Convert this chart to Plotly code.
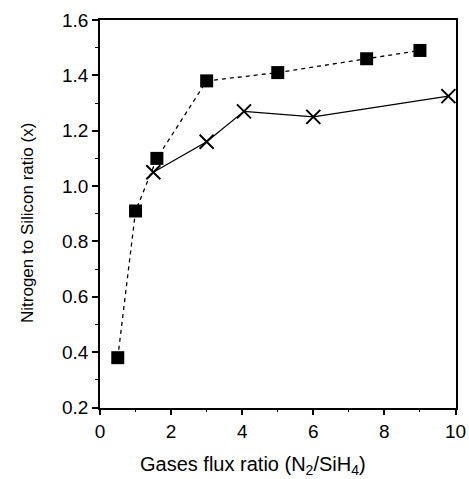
import plotly.graph_objects as go

sq_x = [0.5, 1.0, 1.6, 3.0, 5.0, 7.5, 9.0]
sq_y = [0.38, 0.91, 1.10, 1.38, 1.41, 1.46, 1.49]
cr_x = [1.5, 3.0, 4.05, 6.0, 9.8]
cr_y = [1.05, 1.16, 1.27, 1.25, 1.325]

x_ticks = [0, 2, 4, 6, 8, 10]
y_ticks = [0.2, 0.4, 0.6, 0.8, 1.0, 1.2, 1.4, 1.6]

W, H = 469, 479
PL, PR, PT, PB = 100, 455.5, 20, 407.5  # plot area in picture pixels

fig = go.Figure()
fig.add_trace(go.Scatter(x=sq_x, y=sq_y, mode="lines+markers",
                         line=dict(color="black", width=1.3, dash="4px,4px"),
                         marker=dict(symbol="square", size=13, color="black"),
                         showlegend=False, cliponaxis=False))
fig.add_trace(go.Scatter(x=cr_x, y=cr_y, mode="lines+markers",
                         line=dict(color="black", width=1.3),
                         marker=dict(symbol="x-thin", size=14, color="black",
                                     line=dict(color="black", width=2)),
                         showlegend=False, cliponaxis=False))

font = dict(family="Liberation Sans, Arial, sans-serif", color="black")
fig.update_layout(
    height=H, autosize=True,
    margin=dict(l=0, r=0, t=0, b=0, pad=0),
    plot_bgcolor="white", paper_bgcolor="white",
    font=font,
    xaxis=dict(domain=[PL / W, PR / W], automargin=False,
               range=[0, 10], tickvals=x_ticks, ticktext=[str(v) for v in x_ticks],
               showgrid=False, zeroline=False, showline=True, linecolor="black",
               linewidth=1.5, mirror=True, ticks="outside", ticklen=6, tickwidth=1.5,
               tickcolor="black", tickfont=dict(size=19, **font),
               minor=dict(dtick=1, ticks="outside", ticklen=3, tickcolor="black", tickwidth=1)),
    yaxis=dict(domain=[1 - PB / H, 1 - PT / H], automargin=False,
               range=[0.2, 1.6], tickvals=y_ticks, ticktext=[f"{v:.1f}" for v in y_ticks],
               showgrid=False, zeroline=False, showline=True, linecolor="black",
               linewidth=1.5, mirror=True, ticks="outside", ticklen=6, tickwidth=1.5,
               tickcolor="black", tickfont=dict(size=19, **font),
               minor=dict(dtick=0.1, ticks="outside", ticklen=3, tickcolor="black", tickwidth=1)),
    annotations=[
        dict(text="Gases flux ratio (N<sub>2</sub>/SiH<sub>4</sub>)", xref="paper", yref="paper",
             x=253 / W, y=1 - 465 / H, xanchor="center", yanchor="middle",
             showarrow=False, font=dict(size=20, **font)),
        dict(text="Nitrogen to Silicon ratio (x)", xref="paper", yref="paper",
             x=27 / W, y=1 - 223 / H, xanchor="center", yanchor="middle",
             textangle=-90, showarrow=False, font=dict(size=17, **font)),
    ],
)
fig.write_html(
    "out.html",
    config={"displayModeBar": False, "responsive": True},
    post_script=(
        "document.documentElement.style.margin='0';"
        "document.body.style.margin='0';document.body.style.overflow='hidden';"
        "Plotly.Plots.resize(document.getElementById('{plot_id}'));"
    ),
)
